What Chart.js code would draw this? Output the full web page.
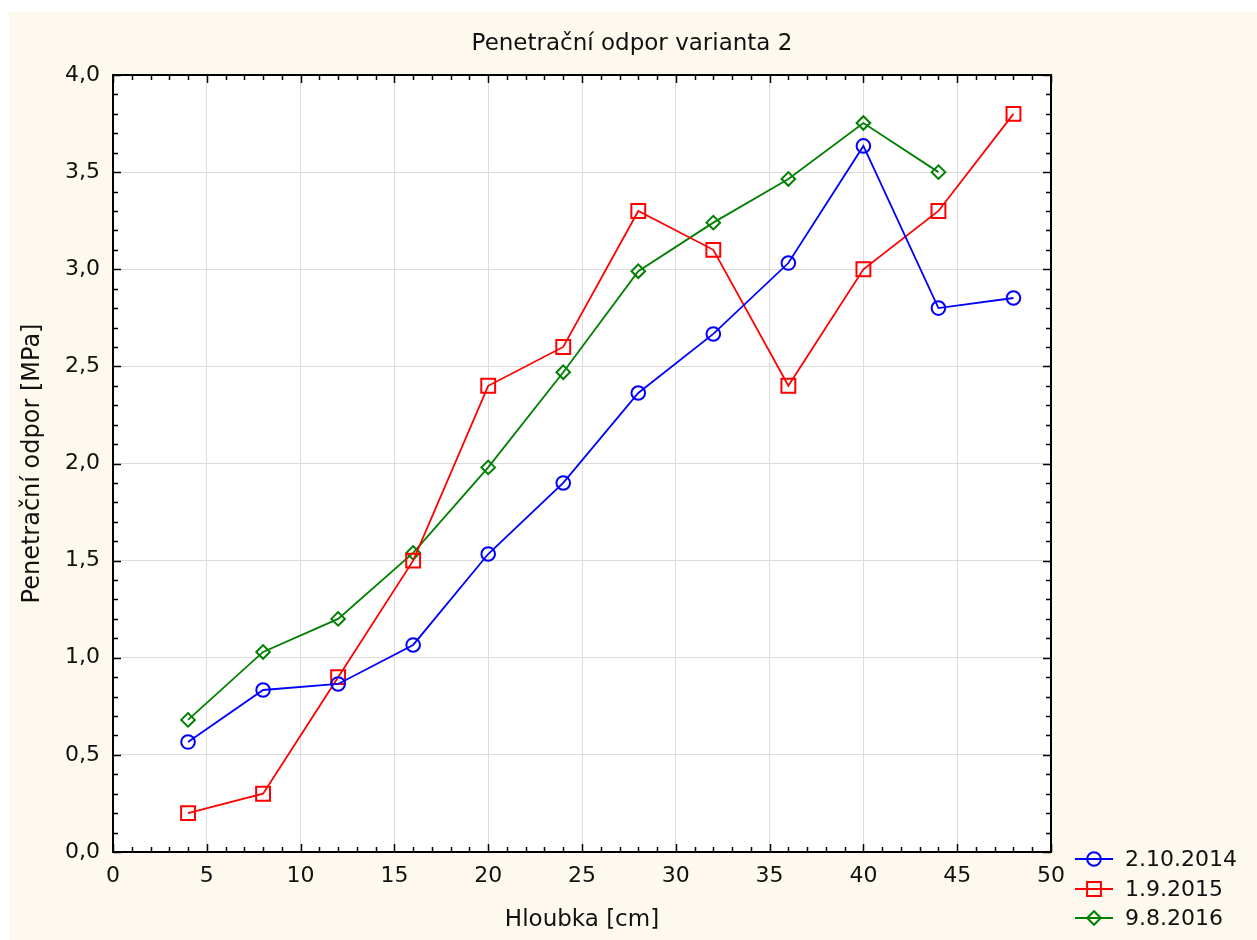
<!DOCTYPE html>
<html>
<head>
<meta charset="utf-8">
<script src="https://cdn.jsdelivr.net/npm/chart.js@4.4.0/dist/chart.umd.min.js"></script>
<style>
  html, body { margin: 0; padding: 0; background: #ffffff; }
  #wrap { width: 1257px; height: 940px; }
</style>
</head>
<body>
<div id="wrap"><canvas id="c" width="1257" height="940"></canvas></div>
<script>
const chartTitle = "Penetrační odpor varianta 2";
const xTitle = "Hloubka [cm]";
const yTitle = "Penetrační odpor [MPa]";
const depths = [4, 8, 12, 16, 20, 24, 28, 32, 36, 40, 44, 48];
const seriesLabels = ["2.10.2014", "1.9.2015", "9.8.2016"];
const values2014 = [0.566, 0.834, 0.865, 1.066, 1.534, 1.90, 2.363, 2.667, 3.032, 3.635, 2.80, 2.852];
const values2015 = [0.20, 0.30, 0.90, 1.50, 2.40, 2.60, 3.30, 3.10, 2.40, 3.00, 3.30, 3.80];
const values2016 = [0.68, 1.03, 1.20, 1.54, 1.98, 2.47, 2.99, 3.24, 3.465, 3.753, 3.50];
const xMin = 0, xMax = 50, xStep = 5;
const yMin = 0, yMax = 4, yStep = 0.5;

const FONT = "'DejaVu Sans', 'Liberation Sans', Arial, sans-serif";
const TXT = '#111111';

function pts(xs, ys) { return ys.map((v, i) => ({ x: xs[i], y: v })); }

const bgPlugin = {
  id: 'bg',
  beforeDraw(chart) {
    const ctx = chart.ctx;
    ctx.save();
    ctx.fillStyle = '#ffffff';
    ctx.fillRect(0, 0, chart.width, chart.height);
    ctx.fillStyle = '#fef9ef';
    ctx.fillRect(9, 12, chart.width - 9, chart.height - 12);
    const a = chart.chartArea;
    ctx.fillStyle = '#ffffff';
    ctx.fillRect(a.left, a.top, a.right - a.left, a.bottom - a.top);
    ctx.restore();
  }
};

const framePlugin = {
  id: 'frame',
  afterDraw(chart) {
    const ctx = chart.ctx;
    const a = chart.chartArea;
    const xs = chart.scales.x, ys = chart.scales.y;
    ctx.save();
    ctx.strokeStyle = '#000000';
    ctx.lineWidth = 1.5;
    ctx.beginPath();
    for (let v = xMin; v <= xMax + 1e-9; v += 1) {
      const px = Math.round(xs.getPixelForValue(v)) + 0.5;
      const major = Math.abs(v % xStep) < 1e-9;
      const len = major ? 8 : 5;
      ctx.moveTo(px, a.bottom); ctx.lineTo(px, a.bottom - len);
      ctx.moveTo(px, a.top); ctx.lineTo(px, a.top + len);
    }
    for (let k = 0; k <= 40; k++) {
      const v = k / 10;
      const py = Math.round(ys.getPixelForValue(v)) + 0.5;
      const major = k % 5 === 0;
      const len = major ? 8 : 5;
      ctx.moveTo(a.left, py); ctx.lineTo(a.left + len, py);
      ctx.moveTo(a.right, py); ctx.lineTo(a.right - len, py);
    }
    ctx.stroke();
    ctx.lineWidth = 2;
    ctx.strokeRect(a.left, a.top, a.right - a.left, a.bottom - a.top);
    ctx.fillStyle = TXT;
    ctx.font = "23px " + FONT;
    ctx.textAlign = 'center';
    ctx.textBaseline = 'middle';
    ctx.fillText(chartTitle, 632, 44);
    const ds = chart.data.datasets;
    const rowY = [859, 889, 918];
    ctx.font = "22px " + FONT;
    ctx.textAlign = 'left';
    ds.forEach((d, i) => {
      const y = rowY[i];
      ctx.strokeStyle = d.borderColor;
      ctx.lineWidth = 1.8;
      ctx.beginPath();
      ctx.moveTo(1075, y); ctx.lineTo(1113, y);
      ctx.stroke();
      ctx.lineWidth = 2;
      ctx.fillStyle = 'rgba(0,0,0,0)';
      Chart.helpers.drawPoint(ctx, { pointStyle: d.pointStyle, radius: d.pointRadius, borderWidth: 2, rotation: 0 }, 1094, y);
      ctx.fillStyle = TXT;
      ctx.fillText(d.label, 1125, y + 1);
    });
    ctx.restore();
  }
};

new Chart(document.getElementById('c'), {
  type: 'line',
  data: {
    datasets: [
      {
        label: seriesLabels[0],
        data: pts(depths, values2014),
        borderColor: '#0000ff',
        pointBorderColor: '#0000ff',
        pointBackgroundColor: 'rgba(0,0,0,0)',
        pointStyle: 'circle',
        pointRadius: 6.8,
        pointBorderWidth: 2,
        borderWidth: 1.8,
        tension: 0
      },
      {
        label: seriesLabels[1],
        data: pts(depths, values2015),
        borderColor: '#ff0000',
        pointBorderColor: '#ff0000',
        pointBackgroundColor: 'rgba(0,0,0,0)',
        pointStyle: 'rect',
        pointRadius: 9.8,
        pointBorderWidth: 2,
        borderWidth: 1.8,
        tension: 0
      },
      {
        label: seriesLabels[2],
        data: pts(depths, values2016),
        borderColor: '#008000',
        pointBorderColor: '#008000',
        pointBackgroundColor: 'rgba(0,0,0,0)',
        pointStyle: 'rectRot',
        pointRadius: 6.8,
        pointBorderWidth: 2,
        borderWidth: 1.8,
        tension: 0
      }
    ]
  },
  options: {
    responsive: false,
    animation: false,
    layout: { padding: { left: 10, top: 75, right: 206, bottom: 0 } },
    plugins: {
      legend: { display: false },
      title: { display: false },
      tooltip: { enabled: false }
    },
    scales: {
      x: {
        type: 'linear',
        min: xMin, max: xMax,
        afterFit(s) { s.height = 88; },
        grid: { color: '#dcdcdc', lineWidth: 1, drawTicks: false },
        border: { display: false },
        ticks: {
          stepSize: xStep,
          padding: 11,
          color: TXT,
          font: { family: FONT, size: 22 },
          maxRotation: 0,
          callback: (v) => String(v)
        },
        title: {
          display: true, text: xTitle, color: TXT,
          font: { family: FONT, size: 23 },
          padding: { top: 0, bottom: 6 }
        }
      },
      y: {
        type: 'linear',
        min: yMin, max: yMax,
        afterFit(s) { s.width = 103; },
        grid: { color: '#dcdcdc', lineWidth: 1, drawTicks: false },
        border: { display: false },
        ticks: {
          stepSize: yStep,
          padding: 13,
          color: TXT,
          font: { family: FONT, size: 22 },
          callback: (v) => Number(v).toFixed(1).replace('.', ',')
        },
        title: {
          display: true, text: yTitle, color: TXT,
          font: { family: FONT, size: 24 },
          padding: { top: 8, bottom: 0 }
        }
      }
    }
  },
  plugins: [bgPlugin, framePlugin]
});
</script>
</body>
</html>
